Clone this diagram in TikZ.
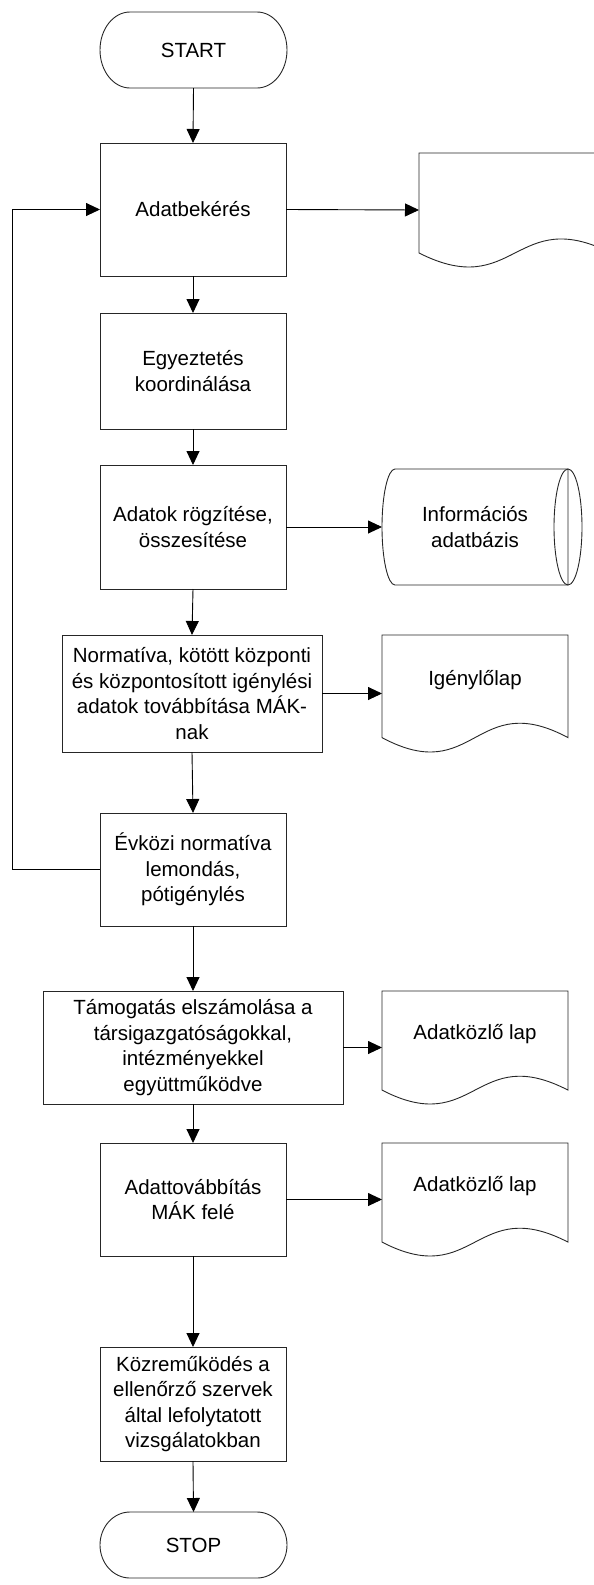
\documentclass[tikz,border=0pt]{standalone}
\usepackage{fontspec}
\setmainfont{Liberation Sans}
\usetikzlibrary{arrows.meta,calc}

\tikzset{
  outline/.style={draw=black!85, line width=0.9pt},
  conn/.style={draw=black, line width=0.9pt, -{Triangle[length=14pt,width=13pt]}},
  txt/.style={font=\fontsize{20.5}{25.5}\selectfont, align=center, inner sep=0pt},
  frame/.style={inner sep=0pt, outer sep=0pt},
}

% process box: name, x1, y1, x2, y2, text
\newcommand\procbox[6]{%
  \node[frame, outline, txt, minimum width={(#4-#2)*1pt}, minimum height={(#5-#3)*1pt}]
    (#1) at ({(#2+#4)/2},{(#3+#5)/2}) {#6};}

% terminator: name, x1, y1, x2, y2, text
\newcommand\termbox[6]{%
  \node[frame, txt, minimum width={(#4-#2)*1pt}, minimum height={(#5-#3)*1pt}]
    (#1) at ({(#2+#4)/2},{(#3+#5)/2}) {#6};
  \draw[outline] ($(#1.north west)+(30,0)$) -- ($(#1.north east)+(-30,0)$)
    arc[start angle=90, end angle=-90, x radius=30pt, y radius={(#5-#3)/2*1pt}]
    -- ($(#1.south west)+(30,0)$)
    arc[start angle=270, end angle=90, x radius=30pt, y radius={(#5-#3)/2*1pt}]
    -- cycle;}

% document: name, x1, y1, x2, y2 (y2 = lowest point of the wave)
\newcommand\docshape[5]{%
  \node[frame, minimum width={(#4-#2)*1pt}, minimum height={(#5-#3)*1pt}]
    (#1) at ({(#2+#4)/2},{(#3+#5)/2}) {};
  \draw[outline] (#1.north west) -- (#1.north east)
    -- ($(#1.north east)!0.877!(#1.south east)$)
    .. controls ($(#1.north)!0.451!(#1.south)$) and ($(#1.north)!1.303!(#1.south)$)
    .. ($(#1.north west)!0.877!(#1.south west)$) -- cycle;}

\begin{document}
\begin{tikzpicture}[x=1pt,y=-1pt]
\useasboundingbox (0,0) rectangle (594,1585);
\clip (0,0) rectangle (594,1585);

% main column
\termbox{start}{100}{12}{287}{88}{START}
\procbox{bekeres}{100}{143}{286}{276}{Adatbekérés}
\procbox{egyezt}{100}{313}{286}{429}{Egyeztetés\\koordinálása}
\procbox{rogzit}{100}{465}{286}{589}{Adatok rögzítése,\\összesítése}
\procbox{normativa}{62}{635}{322}{752}{Normatíva, kötött központi\\és központosított igénylési\\adatok továbbítása MÁK-\\nak}
\procbox{evkozi}{100}{813}{286}{926}{Évközi normatíva\\lemondás,\\pótigénylés}
\procbox{tamogatas}{43}{991}{343}{1104}{Támogatás elszámolása a\\társigazgatóságokkal,\\intézményekkel\\együttműködve}
\procbox{adattov}{100}{1143}{286}{1256}{Adattovábbítás\\MÁK felé}
\procbox{kozrem}{100}{1347}{286}{1461}{Közreműködés a\\ellenőrző szervek\\által lefolytatott\\vizsgálatokban}
\termbox{stop}{100}{1512}{287}{1578}{STOP}

% documents on the right
\docshape{bekdoc}{419}{153}{611}{267}
\docshape{igeny}{382}{635}{568}{752}
\node[txt] (igenyt) at ($(igeny.north)+(0,45)$) {Igénylőlap};
\docshape{adatk1}{382}{991}{568}{1104}
\node[txt] (adatk1t) at ($(adatk1.north)+(0,43)$) {Adatközlő lap};
\docshape{adatk2}{382}{1143}{568}{1256}
\node[txt] (adatk2t) at ($(adatk2.north)+(0,43)$) {Adatközlő lap};

% stored data (database)
\node[frame, minimum width=200pt, minimum height=116pt] (db) at (482,527) {};
\draw[outline] ($(db.north west)+(13,0)$) -- ($(db.north east)+(-14,0)$)
  -- ($(db.south east)+(-14,0)$) -- ($(db.south west)+(13,0)$)
  arc[start angle=270, end angle=90, x radius=13pt, y radius=58pt];
\draw[outline] ($(db.east)+(-14,0)$) ellipse[x radius=14pt, y radius=58pt];
\node[txt] (dbt) at ($(db.center)+(-7,0)$) {Információs\\adatbázis};

% flow connectors
\draw[conn] (start.south) -- (bekeres.north);
\draw[conn] (bekeres.south) -- (egyezt.north);
\draw[conn] (egyezt.south) -- (rogzit.north);
\draw[conn] (rogzit.south) -- (normativa.north);
\draw[conn] (normativa.south) -- (evkozi.north);
\draw[conn] (evkozi.south) -- (tamogatas.north);
\draw[conn] (tamogatas.south) -- (adattov.north);
\draw[conn] (adattov.south) -- (kozrem.north);
\draw[conn] (kozrem.south) -- (stop.north);

% outputs
\draw[conn] (bekeres.east) -- (bekdoc.west);
\draw[conn] (rogzit.east) -- (db.west);
\draw[conn] (normativa.east) -- (igeny.west);
\draw[conn] (tamogatas.east) -- (adatk1.west);
\draw[conn] (adattov.east) -- (adatk2.west);

% feedback loop
\draw[conn] (evkozi.west) -- ++(-88,0) |- (bekeres.west);
\end{tikzpicture}
\end{document}
